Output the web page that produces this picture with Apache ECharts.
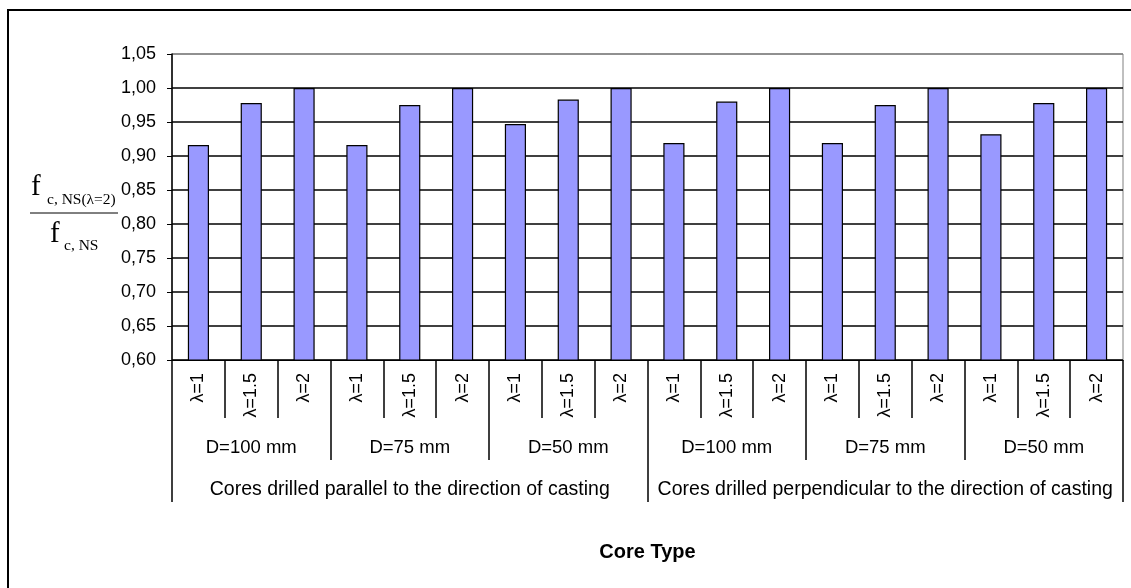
<!DOCTYPE html>
<html>
<head>
<meta charset="utf-8">
<script src="https://cdn.jsdelivr.net/npm/echarts@6/dist/echarts.min.js"></script>
<style>
html,body{margin:0;padding:0;background:#fff;}
#chart{width:1131px;height:588px;}
</style>
</head>
<body>
<div id="chart"></div>
<script>
// ---- data ----
const lambdaLabels = ['λ=1','λ=1.5','λ=2','λ=1','λ=1.5','λ=2','λ=1','λ=1.5','λ=2',
                      'λ=1','λ=1.5','λ=2','λ=1','λ=1.5','λ=2','λ=1','λ=1.5','λ=2'];
const diameterLabels = ['D=100 mm','D=75 mm','D=50 mm','D=100 mm','D=75 mm','D=50 mm'];
const directionLabels = ['Cores drilled parallel to the direction of casting',
                         'Cores drilled perpendicular to the direction of casting'];
const ratioValues = [0.916, 0.978, 1.00, 0.916, 0.975, 1.00, 0.947, 0.983, 1.00,
                     0.919, 0.980, 1.00, 0.919, 0.975, 1.00, 0.932, 0.978, 1.00];
const yTicks = { min: 0.60, max: 1.05, step: 0.05 };
const xTitle = 'Core Type';

// ---- chart ----
const chart = echarts.init(document.getElementById('chart'), null, {renderer: 'canvas'});
const FONT = 'Liberation Sans, Arial, sans-serif';
const SERIF = 'Liberation Serif, Times New Roman, serif';
const gridPos = {left: 172, right: 8, top: 54, bottom: 228};
const splitColors = [];
for (let i = 0; i < 9; i++) splitColors.push('#000');
splitColors.push('#808080');

const option = {
  animation: false,
  backgroundColor: '#fff',
  grid: [
    Object.assign({show: true, borderColor: '#808080', borderWidth: 1, backgroundColor: 'transparent'}, gridPos),
    Object.assign({show: false}, gridPos),
    Object.assign({show: false}, gridPos)
  ],
  xAxis: [
    {
      type: 'category', gridIndex: 0, position: 'bottom', data: lambdaLabels,
      axisLine: {show: true, lineStyle: {color: '#000', width: 1}},
      axisTick: {show: true, interval: 0, length: 58, lineStyle: {color: '#000', width: 1.5}},
      axisLabel: {show: true, interval: 0, rotate: 90, margin: 13, fontFamily: FONT, fontSize: 18, color: '#000'},
      splitLine: {show: false}
    },
    {
      type: 'category', gridIndex: 1, position: 'bottom', data: diameterLabels,
      axisLine: {show: false},
      axisTick: {show: true, interval: 0, length: 100, lineStyle: {color: '#000', width: 1.5}},
      axisLabel: {show: true, interval: 0, margin: 78, fontFamily: FONT, fontSize: 18.5, color: '#000'},
      splitLine: {show: false}
    },
    {
      type: 'category', gridIndex: 2, position: 'bottom', data: directionLabels,
      axisLine: {show: false},
      axisTick: {show: true, interval: 0, length: 142, lineStyle: {color: '#000', width: 1.5}},
      axisLabel: {show: true, interval: 0, margin: 120, fontFamily: FONT, fontSize: 19.5, color: '#000'},
      name: xTitle, nameLocation: 'middle', nameGap: 182,
      nameTextStyle: {fontFamily: FONT, fontSize: 20, fontWeight: 'bold', color: '#000'},
      splitLine: {show: false}
    }
  ],
  yAxis: [
    {
      type: 'value', gridIndex: 0, min: yTicks.min, max: yTicks.max, interval: yTicks.step,
      axisLine: {show: true, lineStyle: {color: '#000', width: 1.5}},
      axisTick: {show: true, inside: false, length: 5, lineStyle: {color: '#000'}},
      axisLabel: {margin: 16, fontFamily: FONT, fontSize: 18, color: '#000',
        formatter: v => v.toFixed(2).replace('.', ',')},
      splitLine: {show: true, lineStyle: {color: splitColors, width: 1.5}}
    },
    {type: 'value', gridIndex: 1, show: false, min: 0, max: 1},
    {type: 'value', gridIndex: 2, show: false, min: 0, max: 1}
  ],
  series: [
    {
      type: 'bar', xAxisIndex: 0, yAxisIndex: 0, data: ratioValues,
      barWidth: '40%',
      itemStyle: {color: '#9999FF', borderColor: '#000', borderWidth: 1.2},
      emphasis: {disabled: true}
    }
  ],
  graphic: [
    {type: 'rect', silent: true, z: 100, shape: {x: 8, y: 10, width: 1140, height: 600},
      style: {fill: 'none', stroke: '#000', lineWidth: 2}},
    {type: 'text', left: 31, top: 173, style: {text: 'f', font: '29px ' + SERIF, fill: '#000'}},
    {type: 'text', left: 47, top: 192, style: {text: 'c, NS(λ=2)', font: '15.5px ' + SERIF, fill: '#000'}},
    {type: 'line', shape: {x1: 30, y1: 213, x2: 118, y2: 213}, style: {stroke: '#000', lineWidth: 1}},
    {type: 'text', left: 50, top: 220, style: {text: 'f', font: '29px ' + SERIF, fill: '#000'}},
    {type: 'text', left: 64, top: 238, style: {text: 'c, NS', font: '15.5px ' + SERIF, fill: '#000'}}
  ]
};
chart.setOption(option);
</script>
</body>
</html>
